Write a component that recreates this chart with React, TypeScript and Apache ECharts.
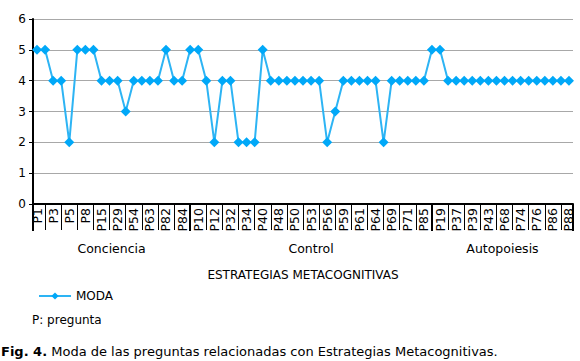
import React, { useEffect, useRef } from "react";
import * as echarts from "echarts";

const concienciaValues = [5, 5, 4, 4, 2, 5, 5, 5, 4, 4, 4, 3, 4, 4, 4, 4, 5, 4, 4, 5];
const controlValues = [5, 4, 2, 4, 4, 2, 2, 2, 5, 4, 4, 4, 4, 4, 4, 4, 2, 3, 4, 4, 4, 4, 4, 2, 4, 4, 4, 4, 4, 5];
const autopoiesisValues = [5, 4, 4, 4, 4, 4, 4, 4, 4, 4, 4, 4, 4, 4, 4, 4, 4];

const concienciaLabels = ["P1", "P3", "P5", "P8", "P15", "P29", "P54", "P63", "P82", "P84"];
const controlLabels = ["P10", "P12", "P32", "P34", "P40", "P48", "P50", "P53", "P56", "P59", "P61", "P64", "P69", "P71", "P85"];
const autopoiesisLabels = ["P19", "P37", "P39", "P43", "P68", "P74", "P76", "P86", "P88"];

const groupNames = ["Conciencia", "Control", "Autopoiesis"];
const yTicks = [0, 1, 2, 3, 4, 5, 6];
const seriesName = "MODA";
const axisTitle = "ESTRATEGIAS METACOGNITIVAS";
const note = "P: pregunta";
const captionBold = "Fig. 4.";
const captionText = "Moda de las preguntas relacionadas con Estrategias Metacognitivas.";

const groups = [
  { values: concienciaValues, labels: concienciaLabels },
  { values: controlValues, labels: controlLabels },
  { values: autopoiesisValues, labels: autopoiesisLabels },
];

const categories: string[] = [];
const values: number[] = [];
const groupEnds: number[] = [];
groups.forEach((g) => {
  g.values.forEach((v, i) => {
    categories.push(i % 2 === 0 ? g.labels[i / 2] : "");
    values.push(v);
  });
  groupEnds.push(categories.length - 1);
});

const FONT = "DejaVu Sans";

export default function App() {
  const ref = useRef<HTMLDivElement>(null);
  useEffect(() => {
    if (!ref.current) return;
    const chart = echarts.init(ref.current, null, { renderer: "svg" });
    const sepIdx = groupEnds.slice(0, groupEnds.length - 1);
    const option: any = {
      animation: false,
      backgroundColor: "#ffffff",
      textStyle: { fontFamily: FONT, color: "#000" },
      grid: { left: 33, right: 7, top: 19, bottom: 157, containLabel: false },
      legend: {
        left: 33,
        top: 285,
        itemWidth: 32,
        itemHeight: 9,
        itemGap: 5,
        data: [seriesName],
        textStyle: { fontFamily: FONT, fontSize: 12, color: "#000" },
      },
      xAxis: [
        {
          type: "category",
          data: categories,
          boundaryGap: true,
          position: "bottom",
          axisLine: { show: true, lineStyle: { color: "#000", width: 2 } },
          axisTick: {
            show: true,
            alignWithLabel: true,
            interval: (i: number) => i % 2 === 1,
            length: 26,
            lineStyle: { color: "#000", width: 1 },
          },
          axisLabel: {
            interval: 0,
            rotate: 90,
            margin: 4,
            fontSize: 12.5,
            fontFamily: FONT,
            color: "#000",
          },
          splitLine: { show: false },
        },
        {
          type: "category",
          data: categories,
          boundaryGap: true,
          position: "bottom",
          offset: 0,
          axisLine: { show: false },
          axisTick: {
            show: true,
            alignWithLabel: true,
            interval: (i: number) => sepIdx.indexOf(i) >= 0,
            length: 27,
            lineStyle: { color: "#000", width: 2 },
          },
          axisLabel: { show: false },
          splitLine: { show: false },
        },
        {
          type: "category",
          data: categories,
          boundaryGap: true,
          position: "bottom",
          offset: 0,
          axisLine: { show: false },
          axisTick: {
            show: true,
            alignWithLabel: false,
            interval: (i: number) => i === 0,
            length: 27,
            lineStyle: { color: "#000", width: 2 },
          },
          axisLabel: { show: false },
          splitLine: { show: false },
        },
      ],
      yAxis: {
        type: "value",
        min: yTicks[0],
        max: yTicks[yTicks.length - 1],
        interval: 1,
        axisLine: { show: true, lineStyle: { color: "#000", width: 2 } },
        axisTick: { show: true, length: 4, lineStyle: { color: "#000", width: 1 } },
        axisLabel: { margin: 7, fontSize: 12, fontFamily: FONT, color: "#000" },
        splitLine: { show: true, lineStyle: { color: "#a8a8a8", width: 1 } },
      },
      series: [
        {
          name: seriesName,
          type: "line",
          xAxisIndex: 0,
          data: values,
          symbol: "diamond",
          symbolSize: [10, 10],
          showAllSymbol: true,
          lineStyle: { color: "#2db4f4", width: 2 },
          itemStyle: { color: "#00a8f8" },
        },
      ],
    };
    chart.setOption(option);

    const px = (i: number) => chart.convertToPixel({ xAxisIndex: 0 }, i) as number;
    const band = px(1) - px(0);
    const axisY = chart.convertToPixel({ yAxisIndex: 0 }, 0) as number;
    const bounds: number[] = [px(0) - band / 2];
    sepIdx.forEach((i) => bounds.push(px(i)));
    bounds.push(px(categories.length - 1) + band / 2);

    const graphics: any[] = groupNames.map((name, k) => ({
      type: "text",
      x: (bounds[k] + bounds[k + 1]) / 2,
      y: axisY + 44,
      style: {
        text: name,
        fontFamily: FONT,
        fontSize: 12.5,
        fill: "#000",
        align: "center",
        verticalAlign: "middle",
      },
    }));
    graphics.push({
      type: "text",
      x: (bounds[0] + bounds[bounds.length - 1]) / 2,
      y: axisY + 71,
      style: { text: axisTitle, fontFamily: FONT, fontSize: 12, fill: "#000", align: "center", verticalAlign: "middle" },
    });
    graphics.push({
      type: "text",
      x: 32,
      y: 320,
      style: { text: note, fontFamily: FONT, fontSize: 12, fill: "#000", align: "left", verticalAlign: "middle" },
    });
    graphics.push({
      type: "text",
      x: 1,
      y: 351,
      style: {
        text: "{b|" + captionBold + "} " + captionText,
        fontFamily: FONT,
        fontSize: 13,
        fill: "#000",
        align: "left",
        verticalAlign: "middle",
        rich: { b: { fontFamily: FONT, fontSize: 13, fontWeight: "bold", fill: "#000" } },
      },
    });
    chart.setOption({ graphic: graphics });

    return () => chart.dispose();
  }, []);
  return (
    <div
      ref={ref}
      style={{ position: "fixed", left: 0, top: 0, width: 580, height: 361, background: "#fff" }}
    />
  );
}
